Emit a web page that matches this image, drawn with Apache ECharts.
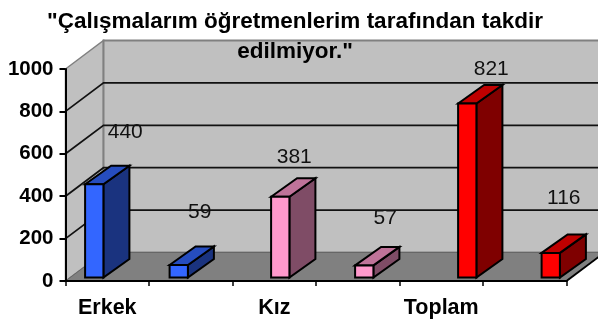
<!DOCTYPE html>
<html><head><meta charset="utf-8">
<style>html,body{margin:0;padding:0;background:#fff}#c{width:598px;height:320px}</style>
<script src="https://cdn.jsdelivr.net/npm/echarts@6/dist/echarts.min.js"></script>
</head><body><div id="c"></div>
<script>
const titleText = '"Çalışmalarım öğretmenlerim tarafından takdir\nedilmiyor."';
const categories = ['Erkek', ' ', 'Kız', '  ', 'Toplam', '   '];
const values = [440, 59, 381, 57, 821, 116];
const yTicks = [0, 200, 400, 600, 800, 1000];
const frontColors = ['#3366FF', '#3366FF', '#FF99CC', '#FF99CC', '#FF0000', '#FF0000'];
const topColors = ['#264DBF', '#264DBF', '#BF7399', '#BF7399', '#BF0000', '#BF0000'];
const sideColors = ['#1A337F', '#1A337F', '#7F4C66', '#7F4C66', '#7F0000', '#7F0000'];
const barShift = [-13, -12, 6, 6.5, 26, 26];
const labelDx = [31, 21, 14, 21, 24, 13];
const labelDy = [-52, -53, -40, -47, -34, -55];

const wallDx = 38, wallDy = -28.5, barW = 18.3, barDx = 26, barDy = -18.5, barBase = -3.5;
const lineB = { stroke: '#000', lineWidth: 2 };

function wallItem(params, api) {
  const r = params.coordSys, L = r.x, R = r.x + r.width, T = r.y, B = r.y + r.height;
  const kids = [
    { type: 'polygon', shape: { points: [[L, T], [L + wallDx, T + wallDy], [L + wallDx, B + wallDy], [L, B]] }, style: { fill: '#C0C0C0', stroke: '#808080', lineWidth: 1.5 } },
    { type: 'polygon', shape: { points: [[L + wallDx, T + wallDy], [R + wallDx, T + wallDy], [R + wallDx, B + wallDy], [L + wallDx, B + wallDy]] }, style: { fill: '#C0C0C0', stroke: '#808080', lineWidth: 2 } },
    { type: 'polygon', shape: { points: [[L, B], [L + wallDx, B + wallDy], [R + wallDx, B + wallDy], [R, B]] }, style: { fill: '#808080', stroke: '#666', lineWidth: 1 } },
    { type: 'line', shape: { x1: R, y1: B, x2: R + wallDx, y2: B + wallDy }, style: lineB }
  ];
  return { type: 'group', children: kids };
}
function gridItem(params, api) {
  const r = params.coordSys;
  const y = api.coord([0, api.value(0)])[1];
  const L = r.x, R = r.x + r.width;
  return { type: 'polyline', shape: { points: [[L, y], [L + wallDx, y + wallDy], [R + wallDx, y + wallDy]] }, style: { fill: null, stroke: '#111', lineWidth: 1.7 } };
}
function barItem(params, api) {
  const i = api.value(0), v = api.value(1);
  const cx = api.coord([i, 0])[0] + barShift[i];
  const y0 = api.coord([i, 0])[1] + barBase;
  const y1 = api.coord([i, v])[1] + barBase;
  const x0 = cx - barW / 2, x1 = cx + barW / 2;
  return { type: 'group', children: [
    { type: 'polygon', shape: { points: [[x1, y1], [x1 + barDx, y1 + barDy], [x1 + barDx, y0 + barDy], [x1, y0]] }, style: Object.assign({ fill: sideColors[i] }, lineB) },
    { type: 'polygon', shape: { points: [[x0, y1], [x0 + barDx, y1 + barDy], [x1 + barDx, y1 + barDy], [x1, y1]] }, style: Object.assign({ fill: topColors[i] }, lineB) },
    { type: 'rect', shape: { x: x0, y: y1, width: barW, height: y0 - y1 }, style: Object.assign({ fill: frontColors[i] }, lineB) },
    { type: 'text', x: cx + labelDx[i], y: y1 + labelDy[i], style: { text: String(v), fill: '#111', font: '21px "Liberation Sans"', align: 'center', verticalAlign: 'middle' } }
  ] };
}

const chart = echarts.init(document.getElementById('c'), null, { renderer: 'canvas' });
chart.setOption({
  animation: false,
  backgroundColor: '#fff',
  title: { text: titleText, left: 290, top: 2, textAlign: 'center', z: 20,
    textStyle: { fontFamily: 'Liberation Sans', fontWeight: 'bold', fontSize: 22.5, color: '#000', lineHeight: 30 } },
  grid: { left: 65.5, top: 69, width: 501, height: 212 },
  xAxis: { type: 'category', data: categories, z: 10,
    axisLine: { lineStyle: { color: '#000', width: 2 } },
    axisTick: { show: true, length: 5, interval: 0, alignWithLabel: false, lineStyle: { color: '#000', width: 1.5 } },
    axisLabel: { interval: 0, margin: 16, color: '#000', fontFamily: 'Liberation Sans', fontWeight: 'bold', fontSize: 21.5 } },
  yAxis: { type: 'value', min: 0, max: 1000, interval: 200, z: 10,
    splitLine: { show: false },
    axisLine: { show: true, lineStyle: { color: '#000', width: 2 } },
    axisTick: { show: true, length: 6, lineStyle: { color: '#000', width: 2 } },
    axisLabel: { margin: 12, color: '#000', fontFamily: 'Liberation Sans', fontWeight: 'bold', fontSize: 20.5, formatter: v => String(v) } },
  series: [
    { type: 'custom', silent: true, clip: false, z: 1, data: [[0]], renderItem: wallItem, encode: { x: -1, y: -1 } },
    { type: 'custom', silent: true, clip: false, z: 2, data: yTicks.slice(1, 5).map(t => [t]), renderItem: gridItem, encode: { x: -1, y: 0 } },
    { type: 'custom', silent: true, clip: false, z: 3, data: values.map((v, i) => [i, v]), renderItem: barItem, encode: { x: 0, y: 1 } }
  ]
});
</script></body></html>
